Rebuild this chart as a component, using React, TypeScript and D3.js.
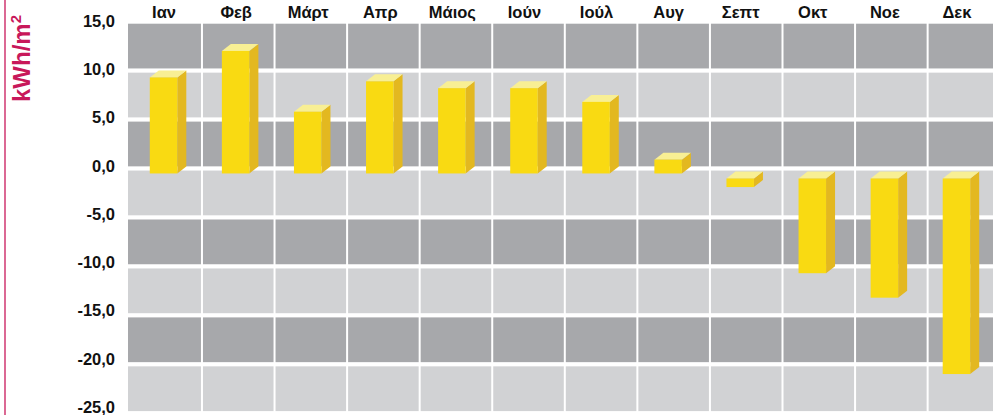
import React from "react";
import * as d3 from "d3";

const months = ["Ιαν", "Φεβ", "Μάρτ", "Απρ", "Μάιος", "Ιούν", "Ιούλ", "Αυγ", "Σεπτ", "Οκτ", "Νοε", "Δεκ"];
const values = [9.3, 12.0, 5.8, 8.9, 8.2, 8.2, 6.8, 0.9, -1.9, -10.7, -13.2, -21.0];
const yTicks = [15, 10, 5, 0, -5, -10, -15, -20, -25];
const yTickLabels = ["15,0", "10,0", "5,0", "0,0", "-5,0", "-10,0", "-15,0", "-20,0", "-25,0"];
const unitLabel = "kWh/m";
const unitSup = "2";

const W = 993;
const H = 415;
const FONT = "'Liberation Sans', Arial, Helvetica, sans-serif";
const DARK = "#a7a8ab";
const LIGHT = "#d1d2d4";
const FRONT = "#f9da12";
const SIDE = "#e3b820";
const TOP = "#f8ef94";
const CRIMSON = "#c8185a";

export default function App() {
  const y = d3.scaleLinear().domain([15, -25]).range([21.6, 413.2]);
  const yLab = d3.scaleLinear().domain([15, -25]).range([21, 407]);
  const xBar = d3.scaleBand<string>().domain(months).range([128, 993]).paddingInner(0).paddingOuter(0);
  const xGrid = d3.scaleBand<string>().domain(months).range([129.4, 1000.2]);
  const plotLeft = 128;
  const gap = 2.1;
  const frontW = 27.5;
  const dx = 9;
  const dy = 7;

  const bands = d3.pairs(yTicks);

  return (
    <svg width={W} height={H} style={{ display: "block", position: "absolute", left: 0, top: 0 }}>
      <rect x={0} y={0} width={W} height={H} fill="#ffffff" />
      {/* background bands */}
      {bands.map(([a, b], i) => (
        <rect
          key={"b" + i}
          x={plotLeft}
          y={y(a) + gap}
          width={W - plotLeft}
          height={y(b) - y(a) - 2 * gap}
          fill={i % 2 === 0 ? DARK : LIGHT}
        />
      ))}
      {/* vertical white lines */}
      {months.slice(1).map((m) => (
        <rect key={"v" + m} x={(xGrid(m) as number) - 1} y={0} width={2} height={H} fill="#ffffff" />
      ))}
      {/* bars */}
      {months.map((m, i) => {
        const v = values[i];
        const cx = (xBar(m) as number) + xBar.bandwidth() / 2 - 0.5;
        const x0 = cx - frontW / 2;
        const x1 = x0 + frontW;
        const top = v >= 0 ? y(v) : y(0) + 10;
        const bot = v >= 0 ? y(0) + 5 : y(v);
        const sidePath = `M${x1},${top} L${x1 + dx},${top - dy} L${x1 + dx},${bot - dy} L${x1},${bot} Z`;
        const topPath = `M${x0},${top} L${x0 + dx},${top - dy} L${x1 + dx},${top - dy} L${x1},${top} Z`;
        return (
          <g key={"bar" + m}>
            <path d={sidePath} fill={SIDE} />
            <path d={topPath} fill={TOP} />
            <rect x={x0} y={top} width={frontW} height={bot - top} fill={FRONT} />
          </g>
        );
      })}
      {/* month labels */}
      {months.map((m) => (
        <text
          key={"m" + m}
          x={(xBar(m) as number) + xBar.bandwidth() / 2}
          y={18}
          textAnchor="middle"
          fontFamily={FONT}
          fontWeight="bold"
          fontSize={16.5}
          fill="#111"
        >
          {m}
        </text>
      ))}
      {/* y tick labels */}
      {yTicks.map((t, i) => (
        <text
          key={"t" + t}
          x={115}
          y={yLab(t)}
          dy="0.36em"
          textAnchor="end"
          fontFamily={FONT}
          fontWeight="bold"
          fontSize={16.5}
          fill="#111"
        >
          {yTickLabels[i]}
        </text>
      ))}
      {/* unit label */}
      <line x1={5} x2={5} y1={0} y2={H} stroke={CRIMSON} strokeWidth={1.3} />
      <text
        transform="translate(30,58.5) rotate(-90)"
        textAnchor="middle"
        fontFamily={FONT}
        fontWeight="bold"
        fontSize={24}
        fill={CRIMSON}
      >
        {unitLabel}
        <tspan fontSize={15} dy={-9}>{unitSup}</tspan>
      </text>
    </svg>
  );
}
